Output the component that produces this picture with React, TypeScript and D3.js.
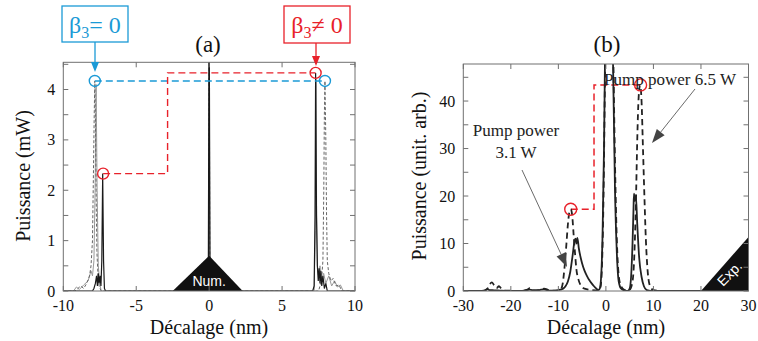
import React from "react";
import * as d3 from "d3";

// ---------- Panel (a) data: Décalage (nm) vs Puissance (mW) ----------
const aSolidX = [-10, -8.0, -7.9, -7.8, -7.72, -7.66, -7.6, -7.55, -7.48, -7.42, -7.36, -7.3, -7.24, -7.18, -7.1, -0.06, 0, 0.06, 7.1, 7.2, 7.26, 7.3, 7.36, 7.42, 7.48, 7.54, 7.6, 7.66, 7.72, 7.8, 7.9, 8.0, 8.1, 10];
const aSolidY = [0, 0, 0.05, 0.15, 0.3, 0.1, 0.35, 0.15, 0.3, 0.1, 0.6, 2.33, 0.6, 0.05, 0, 0, 6, 0, 0, 0.1, 1.5, 4.33, 1.5, 0.5, 0.2, 0.45, 0.15, 0.4, 0.1, 0.3, 0.05, 0.15, 0, 0];
const aGrayX = [-10, -9.3, -9.1, -8.9, -8.6, -8.3, -8.1, -8.0, -7.9, -7.82, -7.75, -7.68, -7.6, -7.5, -7.4, -0.05, 0, 0.05, 7.2, 7.28, 7.33, 7.37, 7.42, 7.5, 7.6, 7.7, 7.85, 8.0, 8.2, 8.4, 8.6, 8.8, 9.0, 9.2, 10];
const aGrayY = [0, 0, 0.08, 0.03, 0.12, 0.2, 0.4, 0.3, 0.6, 2.0, 4.1, 2.0, 0.5, 0.15, 0, 0, 6, 0, 0, 1.2, 4.2, 1.5, 0.5, 0.3, 0.5, 0.2, 0.35, 0.15, 0.3, 0.1, 0.2, 0.08, 0.12, 0, 0];
const aDashX = [-10, -9.2, -9.0, -8.8, -8.6, -8.4, -8.2, -8.1, -8.0, -7.95, -7.88, -7.84, -7.8, -7.75, -7.7, -7.62, -7.55, -7.4, -0.05, 0, 0.05, 7.5, 7.7, 7.8, 7.86, 7.9, 7.94, 8.0, 8.05, 8.1, 8.2, 8.35, 8.5, 8.7, 8.9, 9.1, 10];
const aDashY = [0, 0, 0.05, 0.1, 0.05, 0.15, 0.3, 0.5, 1.0, 2.0, 3.5, 4.17, 3.5, 2.0, 0.8, 0.3, 0.1, 0, 0, 6, 0, 0, 0.2, 0.6, 2.0, 3.5, 4.17, 3.0, 1.5, 0.6, 0.35, 0.2, 0.25, 0.1, 0.12, 0, 0];
const aRedPathX = [-7.27, -2.85, -2.85, 7.3];
const aRedPathY = [2.33, 2.33, 4.33, 4.33];
const aBluePathX = [-7.84, 7.94];
const aBluePathY = [4.17, 4.17];
const aXTicks = [-10, -5, 0, 5, 10];
const aYTicks = [0, 0.5, 1, 1.5, 2, 2.5, 3, 3.5, 4, 4.5];
const aYLabels = [0, 1, 2, 3, 4];

// ---------- Panel (b) data ----------
const bSolidX = [-30, -27, -25.5, -25, -24.5, -23.5, -22, -20, -18, -16, -15, -14, -13, -12, -11, -10, -9, -8.5, -8, -7.5, -7, -6.6, -6.4, -6.2, -6.0, -5.7, -5.3, -5, -4.5, -4, -3.5, -3, -2.5, -2, -1.6, -1.3, -1.0, -0.7, -0.4, -0.2, 0.3, 0.7, 1.1, 1.5, 1.9, 2.3, 2.7, 3.2, 4, 4.6, 5.0, 5.3, 5.6, 5.8, 5.9, 6.1, 6.3, 6.6, 7, 7.5, 8, 8.6, 10, 30];
const bSolidY = [0, 0, 0.1, 0.4, 0.2, 0.15, 0.05, 0, 0, 0.3, 0.1, 0.2, 0.35, 0.1, 0.1, 0.2, 0.5, 1, 2, 4, 7.5, 10.5, 11, 10, 11.2, 9, 7, 5.8, 4.3, 3.2, 2.3, 1.6, 1, 0.5, 0.2, 0.5, 3, 12, 30, 48, 90, 100, 80, 48, 22, 8, 2, 0.5, 0.1, 0, 0.5, 3, 10, 17, 20.5, 19, 20, 14, 7, 3, 1, 0.2, 0, 0];
const bDashX = [-30, -26, -25, -24.5, -24, -23.5, -23, -22.5, -22, -21, -18, -16.5, -16, -15.5, -14, -13, -12, -10, -9.5, -9.1, -8.7, -8.3, -8.0, -7.7, -7.4, -7.1, -6.8, -6.5, -6.2, -5.8, -5.3, -4.5, -3, -1.5, -1.1, -0.8, -0.5, -0.2, 0.3, 0.8, 1.3, 1.7, 2.1, 2.5, 3, 4, 5, 5.6, 6.0, 6.3, 6.6, 6.9, 7.2, 7.5, 7.8, 8.1, 8.4, 8.8, 9.3, 10, 12, 30];
const bDashY = [0, 0, 0.4, 1.3, 1.8, 1.2, 0.6, 1.0, 0.5, 0.1, 0, 0.3, 0.6, 0.2, 0.1, 0.5, 0.2, 0, 0.3, 1.5, 5, 10, 14, 16.5, 17.2, 16, 12, 8, 4.5, 2.5, 1.2, 0.5, 0.2, 0.1, 1, 6, 20, 45, 95, 105, 70, 40, 18, 6, 1.5, 0.2, 0.3, 2, 8, 18, 32, 41, 43.4, 40, 30, 20, 11, 4, 1, 0.2, 0, 0];
const bRedPathX = [-7.4, -2.5, -2.5, 7.3];
const bRedPathY = [17.2, 17.2, 43.4, 43.4];
const bXTicks = [-30, -20, -10, 0, 10, 20, 30];
const bYTicks = [0, 5, 10, 15, 20, 25, 30, 35, 40, 45];
const bYLabels = [0, 10, 20, 30, 40];

const BLUE = "#1b9ad6";
const RED = "#e8212a";
const FRAME = "#707070";
const SERIF = '"Liberation Serif", "Times New Roman", "Tinos", monospace';
const SANS = '"Liberation Sans", "Arial", monospace';

function zip(xs: number[], ys: number[]): [number, number][] {
  return xs.map((x, i) => [x, ys[i]]);
}

type TProps = { x?: number; y?: number; size: number; fam?: string; fill?: string; anchor?: string; transform?: string; children: React.ReactNode };
function T({ x, y, size, fam, fill, anchor, transform, children }: TProps) {
  return (
    <text x={x} y={y} transform={transform} textAnchor={anchor || "middle"} fontSize={size} fontFamily={fam || SERIF} style={{ fontFamily: fam || SERIF }} fill={fill || "#111"}>
      {children}
    </text>
  );
}

type AxisProps = {
  x: d3.ScaleLinear<number, number>;
  y: d3.ScaleLinear<number, number>;
  xTicks: number[];
  yTicks: number[];
  yLabels: number[];
};

function Frame({ x, y, xTicks, yTicks, yLabels }: AxisProps) {
  const [x0, x1] = x.range();
  const [y0, y1] = y.range();
  const t = 5;
  return (
    <g>
      <rect x={x0} y={y1} width={x1 - x0} height={y0 - y1} fill="none" stroke={FRAME} strokeWidth={1} />
      {xTicks.map((v) => (
        <g key={"xt" + v}>
          <line x1={x(v)} x2={x(v)} y1={y0} y2={y0 - t} stroke={FRAME} />
          <line x1={x(v)} x2={x(v)} y1={y1} y2={y1 + t} stroke={FRAME} />
          <T x={x(v)} y={311} size={16}>{v < 0 ? "-" + Math.abs(v) : String(v)}</T>
        </g>
      ))}
      {yTicks.map((v) => (
        <g key={"yt" + v}>
          <line x1={x0} x2={x0 + t} y1={y(v)} y2={y(v)} stroke={FRAME} />
          <line x1={x1} x2={x1 - t} y1={y(v)} y2={y(v)} stroke={FRAME} />
        </g>
      ))}
      {yLabels.map((v) => (
        <T key={"yl" + v} x={x0 - 8} y={y(v) + 5.5} size={16} anchor="end">{v}</T>
      ))}
    </g>
  );
}

function Arrow({ x1, y1, x2, y2, len, w, color, sw }: { x1: number; y1: number; x2: number; y2: number; len: number; w: number; color: string; sw: number }) {
  const ang = Math.atan2(y2 - y1, x2 - x1);
  const bx = x2 - len * Math.cos(ang);
  const by = y2 - len * Math.sin(ang);
  const px = -Math.sin(ang) * (w / 2);
  const py = Math.cos(ang) * (w / 2);
  return (
    <g>
      <line x1={x1} y1={y1} x2={bx} y2={by} stroke={color} strokeWidth={sw} />
      <polygon points={`${x2},${y2} ${bx + px},${by + py} ${bx - px},${by - py}`} fill={color} />
    </g>
  );
}

export default function App() {
  const xA = d3.scaleLinear().domain([-10, 10]).range([63.3, 355]);
  const yA = d3.scaleLinear().domain([0, 4.54]).range([291, 62.3]);
  const xB = d3.scaleLinear().domain([-30, 30]).range([463.3, 748.5]);
  const yB = d3.scaleLinear().domain([0, 47.8]).range([291, 64]);

  const lineA = d3.line<[number, number]>().x((d) => xA(d[0])).y((d) => yA(d[1]));
  const lineB = d3.line<[number, number]>().x((d) => xB(d[0])).y((d) => yB(d[1]));
  const smoothB = d3.line<[number, number]>().x((d) => xB(d[0])).y((d) => yB(d[1])).curve(d3.curveMonotoneX);

  return (
    <svg width={758} height={341} style={{ position: "absolute", left: 0, top: 0, background: "#fff" }}>
      <defs>
        <clipPath id="clipA">
          <rect x={63.3} y={62.3} width={355 - 63.3} height={291 - 62.3} />
        </clipPath>
        <clipPath id="clipB">
          <rect x={463.3} y={64} width={748.5 - 463.3} height={291 - 64} />
        </clipPath>
      </defs>
      <rect x={0} y={0} width={758} height={341} fill="#fff" />

      {/* ---------------- Panel (a) ---------------- */}
      <g clipPath="url(#clipA)">
        <path d={lineA(zip(aGrayX, aGrayY)) || ""} fill="none" stroke="#999" strokeWidth={1} />
        <path d={lineA(zip(aDashX, aDashY)) || ""} fill="none" stroke="#666" strokeWidth={1} strokeDasharray="3,2" />
        <path d={lineA(zip(aSolidX, aSolidY)) || ""} fill="none" stroke="#1a1a1a" strokeWidth={1.2} />
        <path d={lineA(zip(aBluePathX, aBluePathY)) || ""} fill="none" stroke={BLUE} strokeWidth={1.4} strokeDasharray="7,4" />
        <path d={lineA(zip(aRedPathX, aRedPathY)) || ""} fill="none" stroke={RED} strokeWidth={1.4} strokeDasharray="7,4" />
      </g>
      <circle cx={xA(aBluePathX[0])} cy={yA(aBluePathY[0])} r={5.5} fill="none" stroke={BLUE} strokeWidth={1.4} />
      <circle cx={xA(aBluePathX[1])} cy={yA(aBluePathY[1])} r={5.5} fill="none" stroke={BLUE} strokeWidth={1.4} />
      <circle cx={xA(aRedPathX[0])} cy={yA(aRedPathY[0])} r={5.5} fill="none" stroke={RED} strokeWidth={1.4} />
      <circle cx={xA(aRedPathX[3])} cy={yA(aRedPathY[3])} r={5.5} fill="none" stroke={RED} strokeWidth={1.4} />
      {/* Num. triangle */}
      <polygon points={`${xA(-2.5)},291 ${xA(2.3)},291 ${xA(0)},${yA(0.7)}`} fill="#111" />
      <T x={xA(0)} y={286} size={14} fam={SANS} fill="#fff">Num.</T>
      <Frame x={xA} y={yA} xTicks={aXTicks} yTicks={aYTicks} yLabels={aYLabels} />
      <T x={208} y={52} size={23}>(a)</T>
      <T x={209} y={334} size={20}>Décalage (nm)</T>
      <T transform="translate(30,176) rotate(-90)" size={20}>Puissance (mW)</T>

      {/* β3 annotations */}
      <rect x={62} y={6} width={66} height={36} fill="#fff" stroke={BLUE} strokeWidth={1.3} />
      <T x={95} y={33} size={24} fill={BLUE}>
        β<tspan fontSize={16} dy={5}>3</tspan><tspan dy={-5}>= 0</tspan>
      </T>
      <Arrow x1={95} y1={42} x2={95} y2={72} len={10} w={8} color={BLUE} sw={1.3} />
      <rect x={284} y={6} width={66} height={37} fill="#fff" stroke={RED} strokeWidth={1.3} />
      <T x={317} y={33} size={24} fill={RED}>
        β<tspan fontSize={16} dy={5}>3</tspan><tspan dy={-5}>≠ 0</tspan>
      </T>
      <Arrow x1={316} y1={43} x2={316} y2={66} len={10} w={8} color={RED} sw={1.3} />

      {/* ---------------- Panel (b) ---------------- */}
      <g clipPath="url(#clipB)">
        <path d={lineB(zip(bRedPathX, bRedPathY)) || ""} fill="none" stroke={RED} strokeWidth={1.5} strokeDasharray="7,4" />
        <path d={smoothB(zip(bDashX, bDashY)) || ""} fill="none" stroke="#222" strokeWidth={1.8} strokeDasharray="6,4" />
        <path d={smoothB(zip(bSolidX, bSolidY)) || ""} fill="none" stroke="#222" strokeWidth={1.8} />
      </g>
      <circle cx={xB(bRedPathX[0])} cy={yB(bRedPathY[0])} r={6} fill="none" stroke={RED} strokeWidth={1.4} />
      <circle cx={xB(bRedPathX[3])} cy={yB(bRedPathY[3])} r={6} fill="none" stroke={RED} strokeWidth={1.4} />
      {/* Exp. triangle */}
      <polygon points={`${xB(20)},291 ${xB(30)},291 ${xB(30)},237`} fill="#111" />
      <T transform="translate(733,277) rotate(-45)" size={14} fam={SANS} fill="#fff">Exp.</T>
      <Frame x={xB} y={yB} xTicks={bXTicks} yTicks={bYTicks} yLabels={bYLabels} />
      <T x={607} y={52} size={23}>(b)</T>
      <T x={606} y={334} size={20}>Décalage (nm)</T>
      <T transform="translate(426,176) rotate(-90)" size={20}>Puissance (unit. arb.)</T>

      <T x={670} y={85} size={17} fill="#222">Pump power 6.5 W</T>
      <Arrow x1={695} y1={89} x2={652} y2={143} len={14} w={10} color="#444" sw={0.8} />
      <T x={516} y={136} size={17} fill="#222">Pump power</T>
      <T x={516} y={158} size={17} fill="#222">3.1 W</T>
      <Arrow x1={522} y1={170} x2={567} y2={267} len={14} w={10} color="#444" sw={0.8} />
    </svg>
  );
}
